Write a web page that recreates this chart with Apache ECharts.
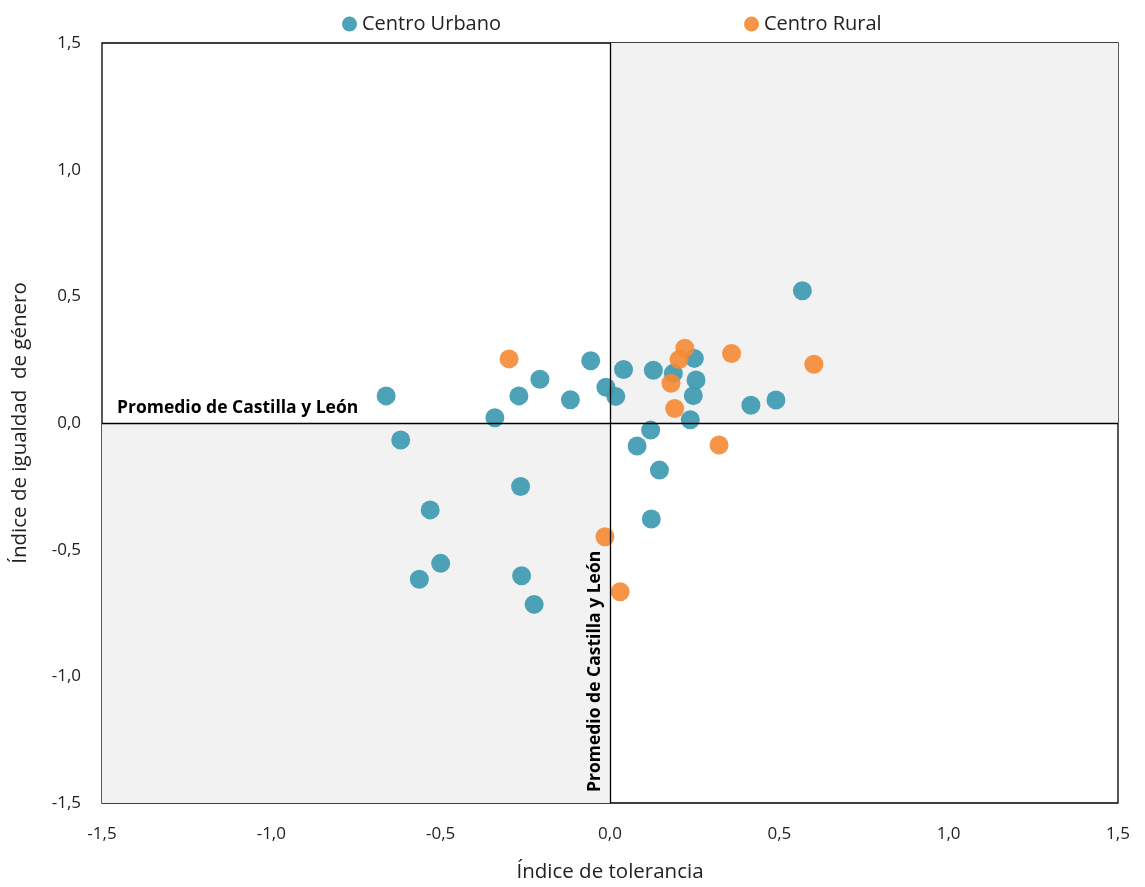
<!DOCTYPE html>
<html>
<head>
<meta charset="utf-8">
<script src="https://cdn.jsdelivr.net/npm/echarts@6/dist/echarts.min.js"></script>
<style>
html,body{margin:0;padding:0;background:#fff;}
#chart{width:1145px;height:887px;}
</style>
</head>
<body>
<div id="chart"></div>
<script>
// Data
const urbanoX = [-0.661,-0.618,-0.340,-0.269,-0.207,-0.117,-0.057,-0.012,0.017,0.040,0.128,0.187,0.249,0.254,0.246,0.237,0.416,0.490,0.568,0.120,0.080,0.146,0.122,-0.264,-0.531,-0.500,-0.563,-0.261,-0.224];
const urbanoY = [0.107,-0.067,0.021,0.107,0.173,0.092,0.246,0.141,0.105,0.211,0.208,0.196,0.255,0.170,0.108,0.013,0.070,0.091,0.522,-0.028,-0.091,-0.186,-0.379,-0.251,-0.343,-0.554,-0.617,-0.603,-0.716];
const ruralX = [-0.298,0.221,0.204,0.359,0.602,0.180,0.191,0.322,-0.015,0.030];
const ruralY = [0.253,0.295,0.251,0.274,0.232,0.157,0.057,-0.087,-0.449,-0.666];
const seriesNames = ['Centro Urbano','Centro Rural'];
const axisMin = -1.5, axisMax = 1.5, axisStep = 0.5;
const refLabel = 'Promedio de Castilla y León';
const xTitle = 'Índice de tolerancia';
const yTitle = 'Índice de igualdad  de género';

const FONT = 'Open Sans';
const fmt = v => v.toFixed(1).replace('.', ',');
const zip = (a, b) => a.map((v, i) => [v, b[i]]);

const chart = echarts.init(document.getElementById('chart'));
chart.setOption({
  animation: false,
  textStyle: { fontFamily: FONT },
  grid: { left: 102, right: 27, top: 43, bottom: 84, show: true, borderColor: '#000', borderWidth: 1.3, backgroundColor: 'transparent', outerBoundsMode: 'none', containLabel: false },
  legend: {
    data: seriesNames,
    top: 9,
    left: 337,
    icon: 'circle',
    itemWidth: 15, itemHeight: 15,
    itemGap: 243,
    textStyle: { fontFamily: FONT, fontSize: 20, color: '#222' }
  },
  xAxis: {
    type: 'value', min: axisMin, max: axisMax, interval: axisStep,
    axisLine: { show: false, onZero: false },
    axisTick: { show: false },
    splitLine: { show: false },
    axisLabel: { formatter: fmt, fontSize: 17, color: '#222', margin: 23, fontFamily: FONT },
    name: xTitle, nameLocation: 'middle', nameGap: 59,
    nameTextStyle: { fontSize: 20.5, color: '#222', fontFamily: FONT }
  },
  yAxis: {
    type: 'value', min: axisMin, max: axisMax, interval: axisStep,
    axisLine: { show: false, onZero: false },
    axisTick: { show: false },
    splitLine: { show: false },
    axisLabel: { formatter: fmt, fontSize: 17, color: '#222', margin: 21, fontFamily: FONT },
    name: yTitle, nameLocation: 'middle', nameGap: 71,
    nameTextStyle: { fontSize: 20.5, color: '#222', fontFamily: FONT }
  },
  series: [
    {
      type: 'scatter', data: [], silent: true, z: 1,
      markArea: {
        silent: true,
        itemStyle: { color: '#f2f2f2' },
        data: [
          [{ coord: [0, 0] }, { coord: [axisMax, axisMax] }],
          [{ coord: [axisMin, axisMin] }, { coord: [0, 0] }]
        ]
      },
      markLine: {
        silent: true, symbol: 'none',
        lineStyle: { color: '#000', width: 1.3, type: 'solid' },
        data: [
          { yAxis: 0, label: { show: true, position: 'insideStartTop', formatter: refLabel, fontFamily: FONT, fontWeight: 'bold', fontSize: 17.5, color: '#000', distance: [15, 6] } },
          { xAxis: 0, label: { show: true, position: 'insideStartTop', formatter: refLabel, fontFamily: FONT, fontWeight: 'bold', fontSize: 17.5, color: '#000', distance: [11, 6] } }
        ]
      }
    },
    {
      name: seriesNames[0], type: 'scatter', z: 3,
      symbolSize: 19,
      itemStyle: { color: '#3f9bb1', opacity: 0.93 },
      data: zip(urbanoX, urbanoY)
    },
    {
      name: seriesNames[1], type: 'scatter', z: 4,
      symbolSize: 19,
      itemStyle: { color: '#f58a33', opacity: 0.9 },
      data: zip(ruralX, ruralY)
    }
  ]
});
</script>
</body>
</html>
